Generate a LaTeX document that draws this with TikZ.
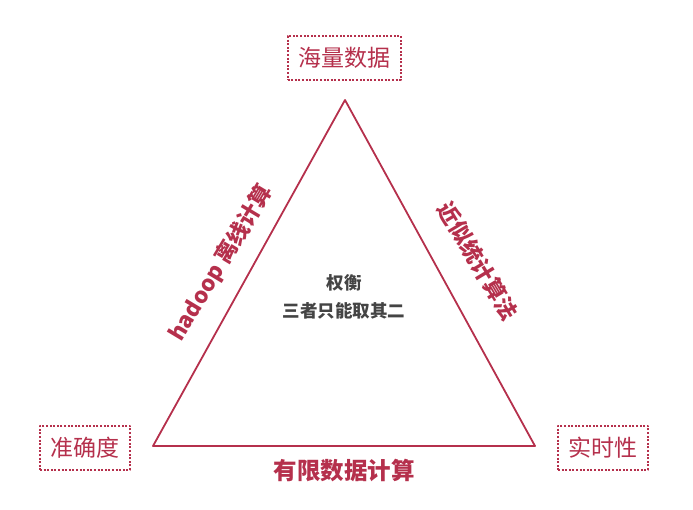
\documentclass[tikz,border=0pt]{standalone}
\usepackage{fontspec}
\newfontfamily\cjk{Noto Sans CJK SC}
\usepackage{tikz}
\usetikzlibrary{calc}
\definecolor{crimson}{HTML}{B5304C}
\definecolor{textgray}{HTML}{444444}

\begin{document}
\begin{tikzpicture}[x=1pt, y=-1pt, font=\cjk, line join=round,
    corner/.style={draw=crimson, line width=2pt, dash pattern=on 2pt off 1.6pt, text=crimson,
        font=\cjk\fontsize{23}{26}\selectfont, inner sep=5pt, minimum height=44pt},
    sidelabel/.style={text=crimson, font=\cjk\bfseries\fontsize{22}{24}\selectfont}]

    % canvas the size of the screenshot
    \useasboundingbox (0,0) rectangle (693,509);

    % triangle corners
    \coordinate (T) at (345, 100);
    \coordinate (L) at (153, 446);
    \coordinate (R) at (535, 446);

    \draw[crimson, line width=1.8pt] (T) -- (L) -- (R) -- cycle;

    % the three properties
    \node[corner, minimum width=113pt] (data)  at (344, 58)  {海量数据};
    \node[corner, minimum width=90pt]  (acc)   at (85, 448)  {准确度};
    \node[corner, minimum width=90pt]  (rt)    at (603, 448) {实时性};

    % labels along the sides
    \node[sidelabel, rotate=59]  (hadoop) at (221, 263) {hadoop 离线计算};
    \node[sidelabel, rotate=-59] (approx) at (478, 261) {近似统计算法};
    \node[sidelabel, font=\cjk\bfseries\fontsize{23.5}{26}\selectfont] (limit) at (344, 471) {有限数据计算};

    % trade-off in the middle
    \node[text=textgray, align=center, font=\cjk\bfseries\fontsize{17.5}{28}\selectfont] (trade) at (344, 297)
        {权衡\\三者只能取其二};

\end{tikzpicture}
\end{document}
